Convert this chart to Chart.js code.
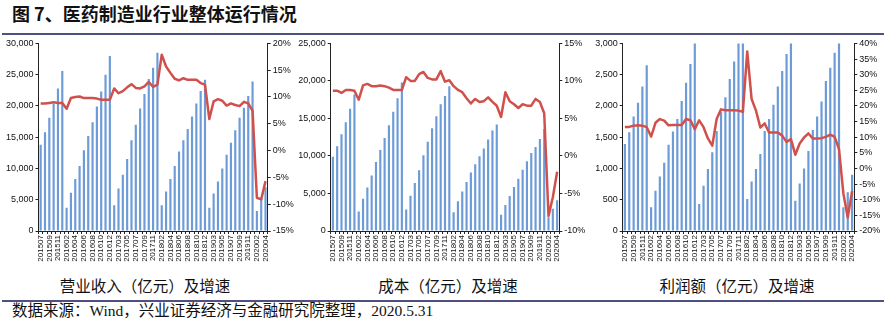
<!DOCTYPE html>
<html>
<head>
<meta charset="utf-8">
<script src="https://cdn.jsdelivr.net/npm/chart.js@4.4.1/dist/chart.umd.min.js"></script>
<style>
  html, body { margin: 0; padding: 0; background: #fff; }
  body { width: 886px; height: 324px; position: relative; overflow: hidden; }
  .title { position: absolute; left: 12px; top: 4px; font: bold 18px/18px "Noto Sans CJK SC", sans-serif; color: #111; white-space: nowrap; }
  .rule { position: absolute; left: 2px; width: 882px; height: 2px; background: #505080; }
  .box { position: absolute; top: 36px; }
  .caption { position: absolute; top: 277px; font: 15.5px/16px "Noto Sans CJK SC", sans-serif; color: #111; white-space: nowrap; transform: translateX(-50%); }
  .source { position: absolute; left: 12px; top: 303px; font: 15.5px/16px "Liberation Serif", "Noto Sans CJK SC", serif; color: #111; white-space: nowrap; }
</style>
</head>
<body>
<div class="title">图 7、医药制造业行业整体运行情况</div>
<div class="rule" style="top:33px"></div>

<div class="box" style="left:0px"><canvas id="c1" width="296" height="228"></canvas></div>
<div class="box" style="left:296px"><canvas id="c2" width="292" height="228"></canvas></div>
<div class="box" style="left:588px"><canvas id="c3" width="298" height="228"></canvas></div>

<div class="caption" style="left:145px">营业收入（亿元）及增速</div>
<div class="caption" style="left:448px">成本（亿元）及增速</div>
<div class="caption" style="left:737px">利润额（亿元）及增速</div>

<div class="rule" style="top:300px"></div>
<div class="source">数据来源：Wind，兴业证券经济与金融研究院整理，2020.5.31</div>

<script>
// month labels (January is merged into February in the source data)
const months = [
  '201507', '201508', '201509', '201510', '201511', '201512',
  '201602', '201603', '201604', '201605', '201606', '201607', '201608', '201609', '201610', '201611', '201612',
  '201702', '201703', '201704', '201705', '201706', '201707', '201708', '201709', '201710', '201711', '201712',
  '201802', '201803', '201804', '201805', '201806', '201807', '201808', '201809', '201810', '201811', '201812',
  '201902', '201903', '201904', '201905', '201906', '201907', '201908', '201909', '201910', '201911', '201912',
  '202002', '202003', '202004'
];

// 营业收入 (亿元), cumulative
const revenue = [
  13800, 15800, 18100, 20300, 22800, 25600,
  3700, 6100, 8300, 10400, 12900, 15200, 17400, 19900, 22300, 25000, 28000,
  4100, 6800, 9000, 11500, 14500, 17000, 19600, 21900, 24300, 26100, 28500,
  4100, 6300, 8300, 10400, 12700, 14500, 16300, 18300, 20400, 22400, 24200,
  3700, 6000, 7900, 10000, 12200, 14100, 16100, 18100, 19700, 21600, 23900,
  3200, 5200, 7000
];
// 营业收入增速 (%)
const revenueGrowth = [
  8.8, 8.8, 8.9, 9.0, 8.9, 8.9,
  7.8, 9.8, 10.0, 10.1, 9.8, 9.8, 9.8, 9.7, 9.5, 9.5, 9.5,
  11.6, 10.7, 11.1, 11.8, 12.4, 11.7, 11.6, 12.0, 12.8, 11.9, 12.3,
  17.9, 15.7, 14.5, 13.4, 13.1, 13.5, 13.2, 13.2, 13.2, 12.6, 12.3,
  5.9, 9.2, 9.6, 9.3, 8.4, 8.8, 8.5, 8.3, 9.1, 8.8, 7.4,
  -8.8, -9.1, -5.7
];

// 成本 (亿元)
const cost = [
  9900, 11300, 12900, 14500, 16300, 18200,
  2600, 4300, 5800, 7400, 9200, 10800, 12400, 14100, 15900, 17700, 19800,
  2850, 4700, 6400, 8100, 10100, 11900, 13700, 15300, 16900, 18000, 19300,
  2500, 3950, 5250, 6530, 7800, 8900, 9950, 11000, 12200, 13400, 14200,
  2180, 3470, 4650, 5870, 6950, 8150, 9300, 10400, 11200, 12250, 13580,
  1830, 2950, 4090
];
const costGrowth = [
  8.7, 8.7, 8.4, 8.8, 8.8, 8.7,
  7.5, 9.4, 9.6, 9.3, 9.3, 9.4, 9.3, 9.1, 8.8, 8.8, 8.8,
  10.5, 10.0, 10.0, 10.9, 11.2, 10.4, 10.2, 10.2, 11.3, 9.9, 10.1,
  9.3, 8.8, 8.5, 7.7, 7.0, 7.6, 7.2, 7.3, 7.8, 7.2, 6.7,
  5.2, 8.5, 7.3, 6.9, 6.4, 6.9, 6.7, 6.7, 7.6, 7.2, 5.7,
  -8.0, -5.5, -2.1
];

// 利润额 (亿元)
const profit = [
  1390, 1580, 1830, 2050, 2310, 2650,
  380, 645, 870, 1090, 1380, 1590, 1790, 2080, 2370, 2670, 3050,
  430, 725, 990, 1260, 1600, 1900, 2140, 2430, 2710, 3050, 3050,
  510, 790, 990, 1230, 1600, 1790, 2020, 2310, 2560, 2830, 3050,
  485, 760, 1000, 1280, 1615, 1830, 2070, 2400, 2610, 2850, 3050,
  380, 620, 900
];
const profitGrowth = [
  13.3, 13.3, 13.7, 13.8, 13.7, 13.2,
  10.2, 14.6, 15.8, 15.3, 13.8, 13.9, 13.9, 13.9, 15.8, 15.4, 12.6,
  15.4, 13.2, 9.6, 7.3, 15.8, 18.9, 18.6, 18.6, 18.6, 18.5, 18.1,
  37.4, 22.2, 18.5, 13.1, 14.4, 11.5, 11.5, 11.5, 10.5, 8.5, 9.4,
  4.4, 8.0, 9.9, 11.2, 9.6, 9.6, 9.7, 10.1, 10.8, 10.1, 6.2,
  -8.0, -15.7, -7.2
];

const axisColor = '#222';
const labelColor = '#111';
const tickFont = { family: '"Liberation Sans", Arial, sans-serif', size: 9 };

function makeChart(id, bars, growth, cfg) {
  const ctx = document.getElementById(id).getContext('2d');
  return new Chart(ctx, {
    type: 'bar',
    data: {
      labels: months,
      datasets: [
        {
          type: 'line',
          data: growth,
          yAxisID: 'y1',
          borderColor: '#d0504c',
          borderWidth: 2.5,
          pointRadius: 0,
          tension: 0,
          borderJoinStyle: 'round',
          order: 0
        },
        {
          type: 'bar',
          data: bars,
          yAxisID: 'y',
          backgroundColor: '#6c9bd8',
          barPercentage: 0.5,
          categoryPercentage: 1,
          order: 1
        }
      ]
    },
    options: {
      responsive: false,
      animation: false,
      devicePixelRatio: 1,
      layout: { padding: { top: cfg.padTop, bottom: 0, left: 0, right: 0 } },
      plugins: { legend: { display: false }, tooltip: { enabled: false } },
      scales: {
        x: {
          offset: true,
          grid: { drawOnChartArea: false, drawTicks: true, tickLength: 3, color: axisColor },
          border: { display: true, color: axisColor, width: 1 },
          ticks: {
            autoSkip: false,
            minRotation: 90,
            maxRotation: 90,
            padding: 1,
            color: labelColor,
            font: { family: '"Liberation Sans", Arial, sans-serif', size: 8 },
            callback: (v, i) => (i % 2 === 0 ? months[i] : '')
          },
          afterFit: s => { s.height = 33; }
        },
        y: {
          position: 'left',
          min: 0,
          max: cfg.max,
          ticks: {
            stepSize: cfg.step,
            padding: 2,
            color: labelColor,
            font: tickFont,
            callback: v => v.toLocaleString('en-US')
          },
          grid: { drawOnChartArea: false, drawTicks: true, tickLength: 3, color: axisColor },
          border: { display: true, color: axisColor, width: 1 },
          afterFit: s => { s.width = cfg.leftW; }
        },
        y1: {
          position: 'right',
          min: cfg.gMin,
          max: cfg.gMax,
          ticks: {
            stepSize: 5,
            padding: 2,
            color: labelColor,
            font: tickFont,
            callback: v => v + '%'
          },
          grid: { drawOnChartArea: false, drawTicks: true, tickLength: 3, color: axisColor },
          border: { display: true, color: axisColor, width: 1 },
          afterFit: s => { s.width = cfg.rightW; }
        }
      }
    }
  });
}

makeChart('c1', revenue, revenueGrowth, { max: 30000, step: 5000, gMin: -15, gMax: 20, leftW: 38.5, rightW: 28.3, padTop: 7.3 });
makeChart('c2', cost, costGrowth, { max: 25000, step: 5000, gMin: -10, gMax: 15, leftW: 34.7, rightW: 28.7, padTop: 7.3 });
makeChart('c3', profit, profitGrowth, { max: 3000, step: 500, gMin: -20, gMax: 40, leftW: 34.7, rightW: 31.7, padTop: 6.7 });
</script>
</body>
</html>
